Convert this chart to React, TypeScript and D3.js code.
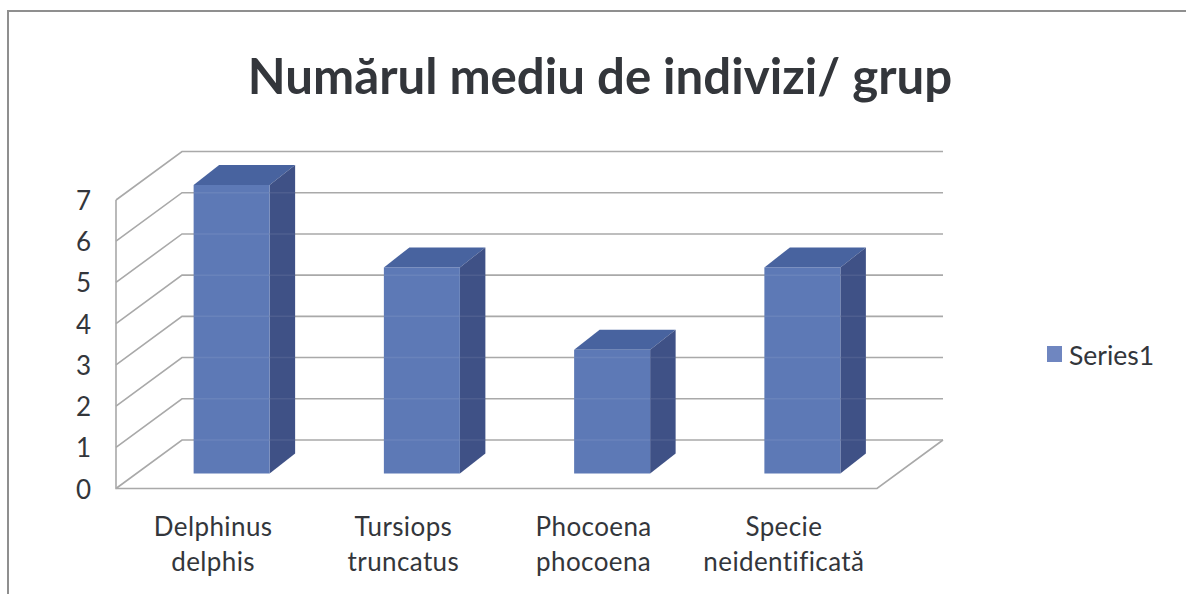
import * as d3 from "d3";

const categories = [
  ["Delphinus", "delphis"],
  ["Tursiops", "truncatus"],
  ["Phocoena", "phocoena"],
  ["Specie", "neidentificată"],
];
const values = [7, 5, 3, 5];
const yTicks = [0, 1, 2, 3, 4, 5, 6, 7];
const chartTitle = "Numărul mediu de indivizi/ grup";
const seriesName = "Series1";

const font = "Lato, 'Open Sans', sans-serif";
const inkColor = "#33363b";
const gridColor = "#a9a9a9";

export default function App() {
  const W = 1186;
  const H = 594;

  const band = d3
    .scaleBand<number>()
    .domain(d3.range(values.length))
    .range([116, 877]);
  const y = d3.scaleLinear().domain([0, 7]).range([488.5, 200]);

  // floor depth of the 3d box, and where the bars sit inside it
  const depthX = 66;
  const depthY = -48.5;
  const barOffX = 20.5;
  const barOffY = -15;
  const barDepthX = 25.5;
  const barDepthY = -20;
  const barW = 76;

  const line = d3.line();

  return (
    <svg
      width={W}
      height={H}
      style={{ position: "absolute", left: 0, top: 0, background: "#fff" }}
    >
      <path
        d={line([[8, H], [8, 11], [W, 11]]) as string}
        fill="none"
        stroke="#8f8f8f"
        strokeWidth={2}
      />
      <text
        x={600}
        y={94}
        textAnchor="middle"
        fontFamily={font}
        fontWeight={700}
        fontSize={49.2}
        fill={inkColor}
      >
        {chartTitle}
      </text>

      {yTicks.map((t) => (
        <path
          key={t}
          d={
            line([
              [116, y(t)],
              [116 + depthX, y(t) + depthY],
              [877 + depthX, y(t) + depthY],
            ]) as string
          }
          fill="none"
          stroke={gridColor}
          strokeWidth={1.6}
        />
      ))}
      <path
        d={
          line([
            [116, y(7)],
            [116, y(0)],
            [877, y(0)],
            [877 + depthX, y(0) + depthY],
          ]) as string
        }
        fill="none"
        stroke={gridColor}
        strokeWidth={1.6}
      />

      {yTicks.map((t) => (
        <text
          key={t}
          x={91}
          y={y(t) + 10}
          textAnchor="end"
          fontFamily={font}
          fontSize={26}
          fill={inkColor}
        >
          {t}
        </text>
      ))}

      {values.map((v, i) => {
        const left = (band(i) as number) + band.bandwidth() / 2 - barW / 2 + barOffX;
        const right = left + barW;
        const bottom = y(0) + barOffY;
        const top = y(v) + barOffY;
        return (
          <g key={i}>
            <path
              d={
                line([
                  [left, top],
                  [left + barDepthX, top + barDepthY],
                  [right + barDepthX, top + barDepthY],
                  [right, top],
                ]) as string
              }
              fill="#48639f"
            />
            <path
              d={
                line([
                  [right, top],
                  [right + barDepthX, top + barDepthY],
                  [right + barDepthX, bottom + barDepthY],
                  [right, bottom],
                ]) as string
              }
              fill="#3f5186"
            />
            <rect x={left} y={top} width={barW} height={bottom - top} fill="#5d79b6" />
            {/* back gridlines show faintly through the scanned bars */}
            {yTicks
              .filter((t) => y(t) + depthY > top + barDepthY + 4 && y(t) + depthY < bottom)
              .map((t) => (
                <line
                  key={t}
                  x1={left}
                  x2={right + barDepthX}
                  y1={y(t) + depthY}
                  y2={y(t) + depthY}
                  stroke="#fff"
                  strokeOpacity={0.08}
                  strokeWidth={1.5}
                />
              ))}
          </g>
        );
      })}

      {categories.map((lines, i) =>
        lines.map((s, j) => (
          <text
            key={s}
            x={(band(i) as number) + band.bandwidth() / 2 + 2}
            y={536 + j * 35}
            textAnchor="middle"
            fontFamily={font}
            fontSize={26}
            letterSpacing={0.4}
            fill={inkColor}
          >
            {s}
          </text>
        ))
      )}

      <rect x={1047} y={346} width={15} height={16} fill="#6f86c0" />
      <text x={1069} y={365} fontFamily={font} fontSize={26.5} fill={inkColor}>
        {seriesName}
      </text>
    </svg>
  );
}
